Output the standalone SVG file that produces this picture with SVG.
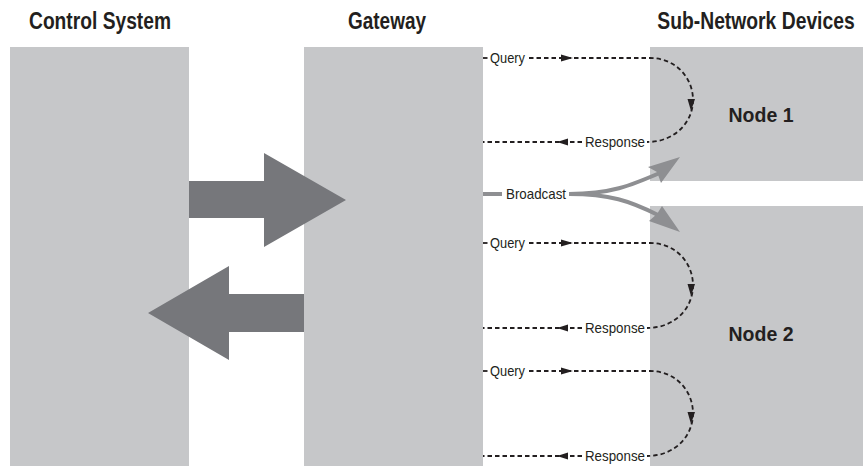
<svg xmlns="http://www.w3.org/2000/svg" width="863" height="466" viewBox="0 0 863 466">
<style>
.blk{fill:#c6c7c9}
.big{fill:#76777b}
.hd{font-family:"Liberation Sans",Arial,sans-serif;font-weight:bold;font-size:23px;fill:#231f20}
.nd{font-family:"Liberation Sans",Arial,sans-serif;font-weight:bold;font-size:21px;fill:#231f20}
.lb{font-family:"Liberation Sans",Arial,sans-serif;font-size:14.5px;fill:#231f20}
.dl{fill:none;stroke:#231f20;stroke-width:1.8;stroke-dasharray:4.5 3}
.ah{fill:#231f20}
.bc{fill:none;stroke:#8e8f92;stroke-width:4}
.bh{fill:#8e8f92}
</style>
<rect width="863" height="466" fill="#ffffff"/>
<g id="control-system">
<rect class="blk" x="10" y="47" width="179" height="419"/>
<text class="hd" x="100" y="29" text-anchor="middle" textLength="142" lengthAdjust="spacingAndGlyphs">Control System</text>
</g>
<g id="gateway">
<rect class="blk" x="304" y="47" width="179" height="419"/>
<text class="hd" x="387" y="29" text-anchor="middle" textLength="78" lengthAdjust="spacingAndGlyphs">Gateway</text>
</g>
<g id="subnetwork-title">
<text class="hd" transform="translate(756,29) scale(0.84,1)" x="0" y="0" text-anchor="middle">Sub-Network Devices</text>
</g>
<g id="node1">
<rect class="blk" x="650" y="47" width="213" height="134"/>
<text class="nd" x="761" y="122" text-anchor="middle" textLength="65" lengthAdjust="spacingAndGlyphs">Node 1</text>
</g>
<g id="node2">
<rect class="blk" x="650" y="206" width="213" height="260"/>
<text class="nd" x="761" y="341" text-anchor="middle" textLength="65" lengthAdjust="spacingAndGlyphs">Node 2</text>
</g>
<g id="connectors">
<polygon class="big" points="189,181 264,181 264,153 346,200 264,247 264,218 189,218"/>
<polygon class="big" points="304,294 229,294 229,266 148,313 229,360 229,332 304,332"/>

<path class="bc" d="M483,194 H502"/>
<text class="lb" x="506" y="199" textLength="60" lengthAdjust="spacingAndGlyphs">Broadcast</text>
<path class="bc" d="M569,194 C610,194 630,186 662,172"/>
<path class="bc" d="M569,194 C610,194 630,201 658,215"/>
<polygon class="bh" points="680,157 648,167 657,172 661,183"/>
<polygon class="bh" points="680,232 662,206 657,214 649,221"/>

<!-- pair 1 -->
<path class="dl" d="M483,58 H490"/>
<text class="lb" x="490" y="63" textLength="35" lengthAdjust="spacingAndGlyphs">Query</text>
<path class="dl" d="M529,58 H650 C676,58 693,78 693,100 C693,122 675,142 647,142"/>
<polygon class="ah" points="573,58 561,54.5 561,61.5"/>
<polygon class="ah" points="691,111 687.5,99 695,99"/>
<text class="lb" x="585" y="147" textLength="60" lengthAdjust="spacingAndGlyphs">Response</text>
<path class="dl" d="M582,142 H483"/>
<polygon class="ah" points="557,142 568,138.5 568,145.5"/>

<!-- pair 2 -->
<path class="dl" d="M483,243 H490"/>
<text class="lb" x="490" y="248" textLength="35" lengthAdjust="spacingAndGlyphs">Query</text>
<path class="dl" d="M529,243 H650 C676,243 693,263 693,285.5 C693,308 675,328 647,328"/>
<polygon class="ah" points="573,243 561,239.5 561,246.5"/>
<polygon class="ah" points="691,296 687.5,284 695,284"/>
<text class="lb" x="585" y="333" textLength="60" lengthAdjust="spacingAndGlyphs">Response</text>
<path class="dl" d="M582,328 H483"/>
<polygon class="ah" points="557,328 568,324.5 568,331.5"/>

<!-- pair 3 -->
<path class="dl" d="M483,371 H490"/>
<text class="lb" x="490" y="376" textLength="35" lengthAdjust="spacingAndGlyphs">Query</text>
<path class="dl" d="M529,371 H650 C676,371 693,391 693,413.5 C693,436 675,456 647,456"/>
<polygon class="ah" points="691,424 687.5,412 695,412"/>
<polygon class="ah" points="573,371 561,367.5 561,374.5"/>
<text class="lb" x="585" y="461" textLength="60" lengthAdjust="spacingAndGlyphs">Response</text>
<path class="dl" d="M582,456 H483"/>
<polygon class="ah" points="557,456 568,452.5 568,459.5"/>
</g>
</svg>
